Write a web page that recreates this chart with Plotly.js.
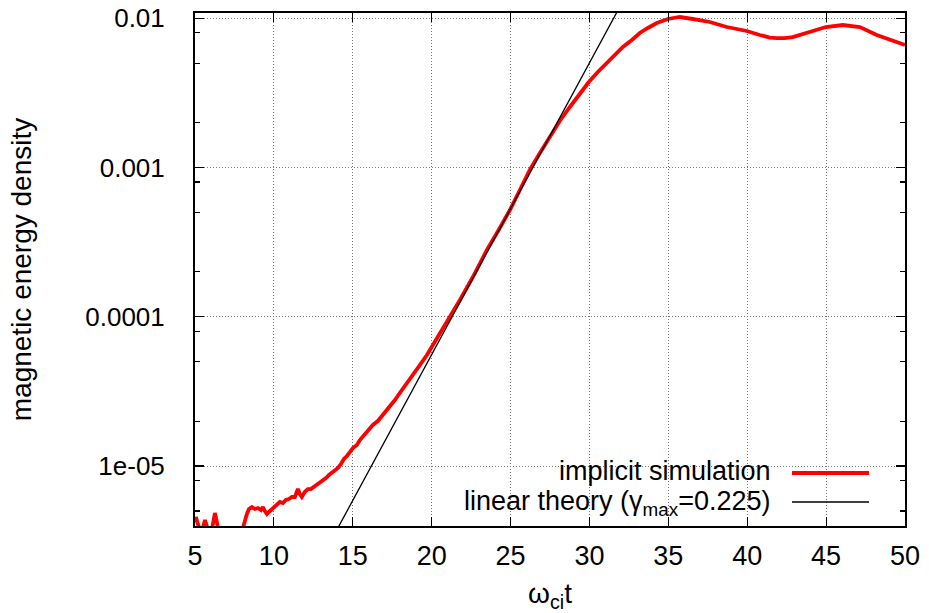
<!DOCTYPE html>
<html>
<head>
<meta charset="utf-8">
<script src="https://cdn.plot.ly/plotly-3.0.1.min.js"></script>
<style>html,body{margin:0;padding:0;background:#fff;}#chart{width:929px;height:613px;}</style>
</head>
<body>
<div id="chart"></div>
<script>
// implicit simulation: time (omega_ci t) and magnetic energy density
const simT = [5.00,5.06,5.18,5.31,5.50,5.63,5.75,5.88,6.07,6.20,6.26,6.39,6.51,6.89,7.53,7.91,8.04,8.16,8.29,8.42,
  8.61,8.80,8.99,9.18,9.30,9.43,9.56,9.68,9.81,10.00,10.19,10.38,10.57,10.76,10.95,11.14,11.33,11.46,11.52,11.65,
  11.77,11.96,12.15,12.34,12.53,12.72,12.92,13.11,13.30,13.49,13.68,13.87,14.06,14.25,14.44,14.63,14.82,15.01,15.26,15.45,
  15.89,16.27,16.59,16.91,17.35,17.67,17.98,18.36,18.81,19.25,19.70,20.01,20.52,21.15,21.79,22.61,23.05,23.50,24.32,24.96,
  25.59,26.22,26.86,27.49,28.12,28.76,29.39,29.96,30.53,31.10,31.61,32.12,32.69,33.19,33.70,34.27,34.97,35.73,36.55,37.63,
  38.71,39.97,40.80,41.43,41.88,42.38,42.89,43.97,44.98,46.06,46.50,47.14,48.21,49.23,50.00];
const simE = [4.21e-6,4.55e-6,4.09e-6,3.73e-6,3.84e-6,4.35e-6,3.96e-6,3.45e-6,3.73e-6,4.69e-6,4.84e-6,4.21e-6,3.45e-6,2.95e-6,2.95e-6,3.45e-6,3.90e-6,4.35e-6,4.77e-6,5.15e-6,
  5.31e-6,5.15e-6,5.23e-6,5.07e-6,5.31e-6,4.99e-6,4.77e-6,4.92e-6,5.07e-6,5.31e-6,5.48e-6,5.74e-6,5.65e-6,5.92e-6,6.01e-6,6.20e-6,6.20e-6,6.70e-6,7.01e-6,6.49e-6,
  6.20e-6,6.70e-6,7.01e-6,7.01e-6,7.23e-6,7.46e-6,7.70e-6,8.06e-6,8.31e-6,8.70e-6,8.98e-6,9.26e-6,9.70e-6,1.031e-5,1.114e-5,1.167e-5,1.241e-5,1.320e-5,1.382e-5,1.494e-5,
  1.689e-5,1.883e-5,2.002e-5,2.196e-5,2.524e-5,2.768e-5,3.084e-5,3.490e-5,4.073e-5,4.752e-5,5.544e-5,6.272e-5,7.784e-5,9.966e-5,1.296e-4,1.848e-4,2.258e-4,2.803e-4,3.936e-4,5.196e-4,
  7.075e-4,9.634e-4,1.252e-3,1.603e-3,2.052e-3,2.547e-3,3.112e-3,3.746e-3,4.372e-3,5.022e-3,5.681e-3,6.428e-3,7.161e-3,7.980e-3,8.619e-3,9.311e-3,9.904e-3,1.0214e-2,9.904e-3,9.456e-3,
  8.752e-3,8.230e-3,7.737e-3,7.44e-3,7.383e-3,7.383e-3,7.498e-3,8.102e-3,8.752e-3,9.028e-3,8.96e-3,8.752e-3,7.737e-3,7.053e-3,6.630e-3];

// linear theory (gamma_max = 0.225): endpoints
const linT = [14.0, 32.0];
const linE = [3.75e-6, 1.237e-2];

// axis ticks
const xTicks = [5,10,15,20,25,30,35,40,45,50];
const yTicks = [1e-5,1e-4,1e-3,1e-2];
const yTickText = ['1e-05','0.0001','0.001','0.01'];
const yMinor = [5e-6,8e-6,2e-5,5e-5,8e-5,2e-4,5e-4,8e-4,2e-3,5e-3,8e-3];

const legendLabels = ['implicit simulation','linear theory (γ<sub>max</sub>=0.225)'];
const seriesColors = ['#ff0000','#000000'];

const FONT = 'Liberation Sans, Arial, Helvetica, sans-serif';
const TXT = 28;
const KEY = 27;

const traces = [
  {x: simT, y: simE, type: 'scatter', mode: 'lines', name: legendLabels[0],
   line: {color: seriesColors[0], width: 3.8}, showlegend: false},
  {x: linT, y: linE, type: 'scatter', mode: 'lines', name: legendLabels[1],
   line: {color: seriesColors[1], width: 1.3}, showlegend: false}
];

const gridStyle = {showgrid: true, gridcolor: '#777', gridwidth: 1, griddash: '1px,2px'};

const layout = {
  width: 929, height: 613,
  margin: {l: 195, r: 24, t: 13, b: 87},
  paper_bgcolor: '#fff', plot_bgcolor: '#fff',
  font: {family: FONT, size: 26, color: '#000'},
  showlegend: false,
  xaxis: Object.assign({
    type: 'linear', range: [5, 50], tickmode: 'array', tickvals: xTicks,
    ticks: 'inside', ticklen: 9, tickwidth: 1.2, tickcolor: '#000',
    showline: true, linecolor: '#000', linewidth: 2, mirror: 'ticks',
    zeroline: false, ticklabelstandoff: 5,
    tickfont: {family: FONT, size: 27},
    title: {text: 'ω<sub>ci</sub>t', font: {family: FONT, size: TXT}, standoff: 15}
  }, gridStyle),
  yaxis: Object.assign({
    type: 'log', range: [-5.402, -1.964], tickmode: 'array', tickvals: yTicks, ticktext: yTickText,
    ticks: 'inside', ticklen: 9, tickwidth: 1.2, tickcolor: '#000',
    showline: true, linecolor: '#000', linewidth: 2, mirror: 'ticks',
    zeroline: false, ticklabelstandoff: 23,
    tickfont: {family: FONT, size: 26},
    minor: {tickmode: 'array', tickvals: yMinor, ticks: 'inside', ticklen: 5, tickwidth: 1.2, tickcolor: '#000', showgrid: false},
    title: {text: 'magnetic energy density', font: {family: FONT, size: TXT}, standoff: 45}
  }, gridStyle),
  shapes: [
    // key background: hides grid under the key, traces stay on top
    {type: 'rect', xref: 'paper', yref: 'paper', x0: 0.197, x1: 0.976, y0: 0, y1: 0.1326,
     fillcolor: '#fff', line: {width: 0}, layer: 'between'},
    // key samples
    {type: 'line', xref: 'paper', yref: 'paper', x0: 0.8408, x1: 0.9493, y0: 0.1033, y1: 0.1033,
     line: {color: seriesColors[0], width: 3.8}},
    {type: 'line', xref: 'paper', yref: 'paper', x0: 0.8408, x1: 0.9493, y0: 0.0468, y1: 0.0468,
     line: {color: seriesColors[1], width: 1.3}}
  ],
  annotations: [
    {text: legendLabels[0], xref: 'paper', yref: 'paper', x: 0.8127, y: 0.1075,
     xanchor: 'right', yanchor: 'middle', showarrow: false, font: {family: FONT, size: KEY}, borderpad: 0},
    {text: legendLabels[1], xref: 'paper', yref: 'paper', x: 0.8127, y: 0.0440,
     xanchor: 'right', yanchor: 'middle', showarrow: false, font: {family: FONT, size: KEY}, borderpad: 0}
  ]
};

Plotly.newPlot('chart', traces, layout, {staticPlot: true, displayModeBar: false});
</script>
</body>
</html>
